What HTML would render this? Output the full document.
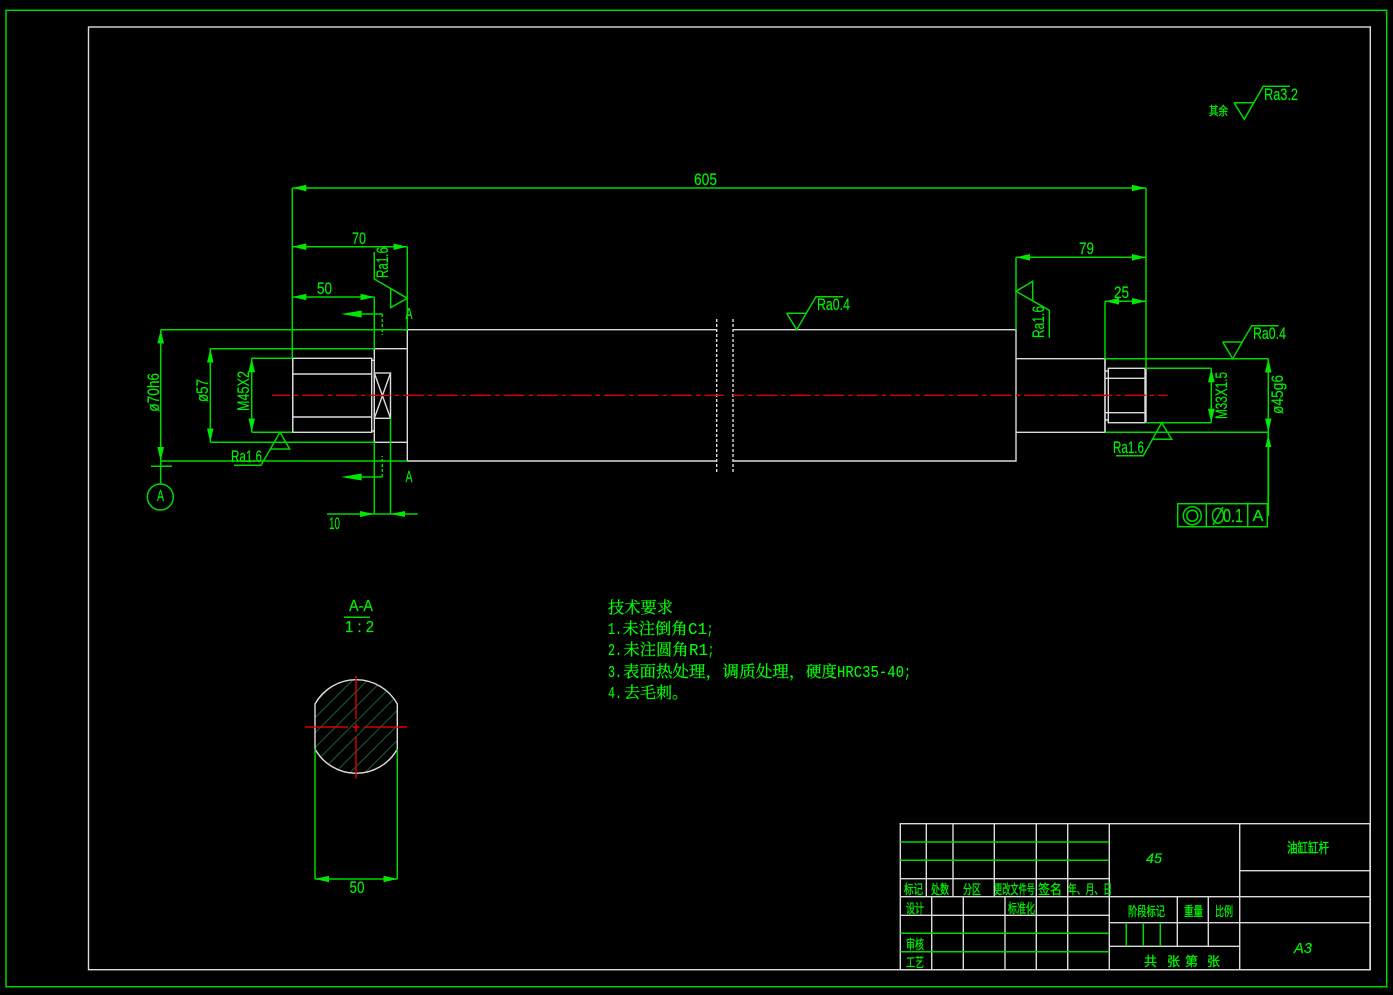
<!DOCTYPE html>
<html><head><meta charset="utf-8"><style>
html,body{margin:0;padding:0;background:#000;width:1393px;height:995px;overflow:hidden}
svg{display:block}
.g{stroke:#00d800;stroke-width:1.5;fill:none}
.w{stroke:#dcdcdc;stroke-width:1.4;fill:none}
.r{stroke:#dc0000;stroke-width:1.4;fill:none}
.d{stroke:#00d800;stroke-width:1.5;fill:none;marker-start:url(#a);marker-end:url(#a)}
text{fill:#00ee00;stroke:#00ee00;stroke-width:.2;font-family:"Liberation Sans","Noto Sans CJK SC",sans-serif;font-size:17px}
.c{font-family:"Liberation Sans","WenQuanYi Zen Hei","Noto Sans CJK SC",sans-serif;font-size:13px;stroke-width:.35}
.s{font-family:"Noto Serif CJK SC",serif;font-size:16px;fill:#00ff00;stroke:#00ff00;stroke-width:.25}
.m{font-family:"Liberation Mono",monospace;font-size:17px;fill:#00ff00;stroke:#00ff00;stroke-width:.1}
</style></head><body>
<svg width="1393" height="995" viewBox="0 0 1393 995" xmlns="http://www.w3.org/2000/svg">
<defs>
<marker id="a" markerUnits="userSpaceOnUse" markerWidth="14" markerHeight="7" refX="14" refY="3.5" orient="auto-start-reverse"><path d="M0 0.2L14 3.5L0 6.8z" fill="#00e800"/></marker>
<clipPath id="sec"><path d="M315 704A47 47 0 0 1 397 704L397 750A47 47 0 0 1 315 750Z"/></clipPath>
</defs>
<rect width="1393" height="995" fill="#000"/>
<rect x="6" y="10.3" width="1380.7" height="976.4" class="g"/>
<rect x="88.5" y="27" width="1281.8" height="942.7" class="w"/>

<!-- shaft: white geometry -->
<g class="w">
<path d="M407.3 329.7H716.7M733 329.7H1016V461H733M716.7 461H407.3V329.7"/>
<path d="M374.3 348.7H407.3M374.3 442.3H407.3M374.3 348.7V442.3"/>
<rect x="292.8" y="358.3" width="78.9" height="74"/>
<path d="M292.3 374H371.7M292.3 417H371.7M371.7 360.3H374.3M371.7 431H374.3"/>
<rect x="374.3" y="373" width="16.2" height="45.3"/>
<path d="M374.3 373L390.5 418.3M390.5 373L374.3 418.3"/>
<path d="M1016 358.7H1105V432.3H1016"/>
<path d="M1105 358.7V432.3"/>
<rect x="1108.3" y="368.3" width="36.7" height="54.4"/>
<path d="M1105 378.3H1146M1105 412.7H1146M1105 371H1108.3M1105 420H1108.3M1146 369V422"/>
<path d="M716.7 319V472M733 319V472" stroke-dasharray="3 2"/>
<path d="M292.8 358.3V432.3"/>
</g>
<!-- centre lines -->
<path class="r" d="M272 395.3H724" stroke-dasharray="21 4.2 4.3 4" stroke-dashoffset="3"/>
<path class="r" d="M733 395.3H1167.7" stroke-dasharray="21 4.2 4.3 4" stroke-dashoffset="10.3"/>

<!-- green extension lines -->
<g class="g">
<path d="M292.3 188V358.3M407.3 246.7V329.7M374.3 297V348.7M374.3 442.3V514M390.5 418.3V514"/>
<path d="M160.7 329.7H407.3M160.7 461H407.3M210.3 348.7H374.3M210.3 442.3H374.3M251.7 358.3H292.3M251.7 432.3H292.3"/>
<path d="M1146 188V368.3M1016 257.3V329.7M1105 301.3V358.7"/>
<path d="M1105 358.7H1268.3M1105 432.3H1268.3M1146 368.3H1211.3M1146 422.7H1211.3"/>
<path d="M1268.3 432.3V516" stroke-width="1.8"/>
<path d="M327 514H417.7"/>
<path d="M160.7 461V484M151 466.3H172"/>
<circle cx="160.3" cy="497" r="13"/>
<path d="M361.7 314H382.3"/>
<path d="M382.3 314V335" stroke-dasharray="3 2"/>
<path d="M361.7 477H382.3"/>
<path d="M382.3 477V456" stroke-dasharray="3 2"/>
<!-- roughness -->
<path d="M374.3 252V279L407.3 298.3L390.7 307.7L390.7 288"/>
<path d="M234 465.3H261L280 432.3L289.7 449H270"/>
<path d="M786.7 313.3H806M786.7 313.3L796.7 329.7L816 296.7H843.3"/>
<path d="M1234 102.7H1253.3M1234 102.7L1244.3 119.3L1263.3 86.3H1290"/>
<path d="M1222.7 342H1242M1222.7 342L1232.7 358.7L1251.7 325.7H1278.7"/>
<path d="M1116 455.7H1143.3L1161.7 422.7L1171.7 439.3H1152.3"/>
<path d="M1049.3 337.7V310.3L1016 291.3L1032.7 281.3V300.7"/>
<!-- FCF -->
<rect x="1177.7" y="503.7" width="89.6" height="23"/>
<path d="M1206.3 503.7V526.7M1247.7 503.7V526.7"/>
<circle cx="1192.3" cy="515.7" r="9"/><circle cx="1192.3" cy="515.7" r="5.5"/>
<ellipse cx="1218" cy="515.7" rx="5.5" ry="7.5"/>
<path d="M1213 525L1223 507"/>
</g>
<!-- section arrows -->
<g fill="#00e800">
<path d="M341 314L361.7 310.5V317.5Z"/>
<path d="M341 477L361.7 473.5V480.5Z"/>
<path d="M374.3 514L360 511V517Z"/>
<path d="M390.5 514L405 511V517Z"/>
<path d="M1268.3 435L1265.3 447H1271.3Z"/>
</g>
<!-- dimensions -->
<path class="d" d="M292.3 188H1146"/>
<path class="d" d="M292.3 246.7H407.3"/>
<path class="d" d="M292.3 297H374.3"/>
<path class="d" d="M160.7 329.7V461"/>
<path class="d" d="M210.3 348.7V442.3"/>
<path class="d" d="M251.7 358.3V432.3"/>
<path class="d" d="M1016 257.3H1146"/>
<path class="d" d="M1105 301.3H1146"/>
<path class="d" d="M1211.3 368.3V422.7"/>
<path class="d" d="M1268.3 358.7V432.3"/>

<!-- labels -->
<text x="694" y="185" textLength="23" lengthAdjust="spacingAndGlyphs">605</text>
<text x="352" y="244" textLength="14" lengthAdjust="spacingAndGlyphs">70</text>
<text x="317" y="294" textLength="15" lengthAdjust="spacingAndGlyphs">50</text>
<text x="1079" y="254" textLength="15" lengthAdjust="spacingAndGlyphs">79</text>
<text x="1114" y="298" textLength="15" lengthAdjust="spacingAndGlyphs">25</text>
<text x="329" y="529" textLength="11" lengthAdjust="spacingAndGlyphs">10</text>
<text x="405.5" y="319" textLength="7" lengthAdjust="spacingAndGlyphs" style="font-size:16px">A</text>
<text x="405.5" y="482" textLength="7" lengthAdjust="spacingAndGlyphs" style="font-size:16px">A</text>
<text x="157" y="501" textLength="7" lengthAdjust="spacingAndGlyphs" style="font-size:16px">A</text>
<text transform="translate(159,411.7) rotate(-90)" textLength="38.7" lengthAdjust="spacingAndGlyphs">ø70h6</text>
<text transform="translate(208,402) rotate(-90)" textLength="23" lengthAdjust="spacingAndGlyphs">ø57</text>
<text transform="translate(249,411) rotate(-90)" textLength="40" lengthAdjust="spacingAndGlyphs">M45X2</text>
<text transform="translate(388,278) rotate(-90)" textLength="31" lengthAdjust="spacingAndGlyphs">Ra1.6</text>
<text x="231" y="462" textLength="31" lengthAdjust="spacingAndGlyphs">Ra1.6</text>
<text x="817" y="310" textLength="33" lengthAdjust="spacingAndGlyphs">Ra0.4</text>
<text x="1264" y="100" textLength="34" lengthAdjust="spacingAndGlyphs">Ra3.2</text>
<text x="1209" y="115" textLength="19" lengthAdjust="spacingAndGlyphs" class="c" style="font-size:12px">其余</text>
<text x="1253" y="339" textLength="33" lengthAdjust="spacingAndGlyphs">Ra0.4</text>
<text x="1113" y="453" textLength="31" lengthAdjust="spacingAndGlyphs">Ra1.6</text>
<text transform="translate(1044,338) rotate(-90)" textLength="32" lengthAdjust="spacingAndGlyphs">Ra1.6</text>
<text transform="translate(1227,419) rotate(-90)" textLength="47" lengthAdjust="spacingAndGlyphs">M33X1.5</text>
<text transform="translate(1283,414) rotate(-90)" textLength="39" lengthAdjust="spacingAndGlyphs">ø45g6</text>
<text x="1223" y="522" textLength="20" lengthAdjust="spacingAndGlyphs" style="font-size:18px">0.1</text>
<text x="1252.5" y="521" textLength="11" lengthAdjust="spacingAndGlyphs" style="font-size:16px">A</text>

<!-- section view -->
<g clip-path="url(#sec)" stroke="#17552a" stroke-width="1.2">
<path d="M300 717.7L420 597.7M300 732.7L420 612.7M300 747.7L420 627.7M300 762.7L420 642.7M300 777.7L420 657.7M300 792.7L420 672.7M300 807.7L420 687.7M300 822.7L420 702.7M300 837.7L420 717.7"/>
</g>
<path class="w" d="M315 749A47 47 0 0 0 397.3 749M397.3 749V704A47 47 0 0 0 315 704V749"/>
<path class="r" d="M305 727H348M352.5 727H359.5M364 727H407M356 676V719M356 723.5V732M356 736V778.7"/>
<path class="g" d="M315 749V879M397.3 749V879"/>
<path class="d" d="M315 879H397.3"/>
<text x="349.5" y="893" textLength="15" lengthAdjust="spacingAndGlyphs">50</text>
<text x="349" y="611" textLength="24" lengthAdjust="spacingAndGlyphs" style="font-size:16px">A-A</text>
<path class="g" d="M344 617.3H370"/>
<text x="345" y="632" textLength="29" lengthAdjust="spacingAndGlyphs" style="font-size:16px">1 : 2</text>

<!-- technical requirements -->
<text class="s" x="608" y="613" textLength="65" lengthAdjust="spacingAndGlyphs">技术要求</text>
<text class="m" x="608" y="634" textLength="14" lengthAdjust="spacingAndGlyphs">1.</text>
<text class="s" x="622.5" y="634" textLength="65" lengthAdjust="spacingAndGlyphs">未注倒角</text>
<text class="m" x="688" y="634" textLength="19" lengthAdjust="spacingAndGlyphs">C1</text>
<text class="m" x="707" y="634" textLength="6" lengthAdjust="spacingAndGlyphs">;</text>
<text class="m" x="608" y="655" textLength="14" lengthAdjust="spacingAndGlyphs">2.</text>
<text class="s" x="623.5" y="655" textLength="65" lengthAdjust="spacingAndGlyphs">未注圆角</text>
<text class="m" x="689" y="655" textLength="19" lengthAdjust="spacingAndGlyphs">R1</text>
<text class="m" x="708" y="655" textLength="6" lengthAdjust="spacingAndGlyphs">;</text>
<text class="m" x="608" y="677" textLength="14" lengthAdjust="spacingAndGlyphs">3.</text>
<text class="s" x="623" y="677" textLength="99" lengthAdjust="spacingAndGlyphs">表面热处理，</text>
<text class="s" x="722.5" y="677" textLength="83" lengthAdjust="spacingAndGlyphs">调质处理，</text>
<text class="s" x="806" y="677" textLength="31" lengthAdjust="spacingAndGlyphs">硬度</text>
<text class="m" x="837" y="677" textLength="67" lengthAdjust="spacingAndGlyphs">HRC35-40</text>
<text class="m" x="904" y="677" textLength="7" lengthAdjust="spacingAndGlyphs">;</text>
<text class="m" x="608" y="698" textLength="14" lengthAdjust="spacingAndGlyphs">4.</text>
<text class="s" x="624" y="698" textLength="64" lengthAdjust="spacingAndGlyphs">去毛刺。</text>

<!-- title block -->
<g class="w">
<path d="M900.3 823.7H1370V969.7H900.3ZM900.3 878.7H1109.3M900.3 896.7H1370M900.3 915.3H1109.3"/>
<path d="M926.3 823.7V896.7M953 823.7V896.7M994.3 823.7V896.7M1036.3 823.7V896.7M1067.7 823.7V896.7M1109.3 823.7V969.7M1239.7 823.7V969.7"/>
<path d="M931.7 896.7V969.7M963.3 896.7V969.7M1005 896.7V969.7M1036.3 896.7V969.7M1067.7 896.7V969.7"/>
<path d="M1109.3 922.7H1370M1109.3 946.3H1239.7M1239.7 870.7H1370M1177.3 896.7V946.3M1208.3 896.7V946.3"/>
</g>
<g class="g">
<path d="M900.3 842H1109.3M900.3 860.3H1109.3M900.3 933.3H1109.3M900.3 951.7H1109.3"/>
<path d="M1126.3 922.7V946.3M1143.3 922.7V946.3M1160.3 922.7V946.3"/>
</g>
<text class="c" x="1287" y="853" textLength="42" lengthAdjust="spacingAndGlyphs" style="font-size:14px">油缸缸杆</text>
<text x="1146" y="863" textLength="16" lengthAdjust="spacingAndGlyphs" style="font-size:14px;font-style:italic">45</text>
<text x="1294" y="953" textLength="18" lengthAdjust="spacingAndGlyphs" style="font-size:15px;font-style:italic">A3</text>
<text class="c" x="904" y="894" textLength="19" lengthAdjust="spacingAndGlyphs">标记</text>
<text class="c" x="931" y="894" textLength="18" lengthAdjust="spacingAndGlyphs">处数</text>
<text class="c" x="963" y="894" textLength="18" lengthAdjust="spacingAndGlyphs">分区</text>
<text class="c" x="994" y="894" textLength="41" lengthAdjust="spacingAndGlyphs">更改文件号</text>
<text class="c" x="1038" y="894" textLength="24" lengthAdjust="spacingAndGlyphs">签名</text>
<text class="c" x="1068" y="894" textLength="44" lengthAdjust="spacingAndGlyphs">年、月、日</text>
<text class="c" x="906" y="913" textLength="18" lengthAdjust="spacingAndGlyphs">设计</text>
<text class="c" x="1008" y="913" textLength="27" lengthAdjust="spacingAndGlyphs">标准化</text>
<text class="c" x="906" y="949" textLength="18" lengthAdjust="spacingAndGlyphs">审核</text>
<text class="c" x="906" y="967" textLength="18" lengthAdjust="spacingAndGlyphs">工艺</text>
<text class="c" x="1128" y="916" textLength="37" lengthAdjust="spacingAndGlyphs">阶段标记</text>
<text class="c" x="1184" y="916" textLength="19" lengthAdjust="spacingAndGlyphs">重量</text>
<text class="c" x="1215" y="916" textLength="18" lengthAdjust="spacingAndGlyphs">比例</text>
<text class="c" x="1144" y="966">共</text>
<text class="c" x="1167" y="966">张</text>
<text class="c" x="1185" y="966">第</text>
<text class="c" x="1207" y="966">张</text>
</svg>
</body></html>
